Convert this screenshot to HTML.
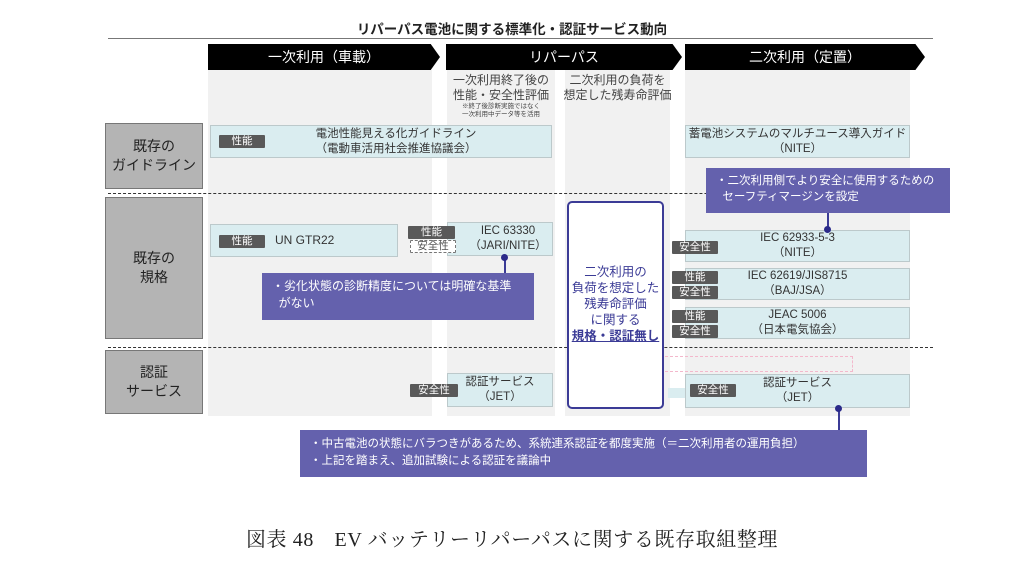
<!DOCTYPE html><html><head><meta charset="utf-8"><style>
body{margin:0;width:1024px;height:566px;background:#fff;position:relative;overflow:hidden;font-family:"Liberation Sans","Noto Sans CJK JP",sans-serif;color:#333}
div{position:absolute;box-sizing:border-box}
.col{background:#f1f1f1}
.hd{background:#000;color:#fff;font-size:14px;text-align:center;line-height:26px;height:26px}
.rl{background:#b4b4b4;border:1px solid #777;font-size:14px;text-align:center;display:flex;align-items:center;justify-content:center;line-height:19px;color:#222}
.bx{background:#daedf0;border:1px solid #bcc9cb;font-size:11.5px;text-align:center;line-height:15px;display:flex;flex-direction:column;justify-content:center}
.tg{background:#595959;color:#fff;font-size:10.5px;text-align:center;line-height:12px;height:13px;border-radius:1px}
.cl{background:#6461ad;color:#fff;font-size:12px;line-height:17px;padding:5px 10px}
.dl{height:0;border-top:1px dashed #333;left:108px;width:825px}
.ln{background:#3b3b96;width:1.5px}
.dot{width:7px;height:7px;border-radius:50%;background:#2a2a8a}
</style></head><body>
<div style="left:0;width:1024px;top:18px;text-align:center;font-size:13.5px;font-weight:bold;color:#222">リパーパス電池に関する標準化・認証サービス動向</div>
<div style="left:108px;top:38px;width:825px;height:1px;background:#777"></div>

<div class="col" style="left:208px;top:70px;width:224px;height:346px"></div>
<div class="col" style="left:447px;top:70px;width:108px;height:346px"></div>
<div class="col" style="left:565px;top:70px;width:105px;height:346px"></div>
<div class="col" style="left:685px;top:70px;width:225px;height:346px"></div>

<div class="hd" style="left:208px;top:44px;width:232px;clip-path:polygon(0 0,96% 0,100% 50%,96% 100%,0 100%)">一次利用（車載）</div>
<div class="hd" style="left:446px;top:44px;width:236px;clip-path:polygon(0 0,96% 0,100% 50%,96% 100%,0 100%)">リパーパス</div>
<div class="hd" style="left:685px;top:44px;width:240px;clip-path:polygon(0 0,96% 0,100% 50%,96% 100%,0 100%)">二次利用（定置）</div>

<div style="left:447px;top:73px;width:108px;text-align:center;font-size:12px;line-height:15px;color:#444">一次利用終了後の<br>性能・安全性評価<div style="position:static;font-size:6.5px;line-height:8px">※終了後診断実施ではなく<br>一次利用中データ等を活用</div></div>
<div style="left:560px;top:73px;width:115px;text-align:center;font-size:12px;line-height:15px;color:#444">二次利用の負荷を<br>想定した残寿命評価</div>

<div class="rl" style="left:105px;top:123px;width:98px;height:66px">既存の<br>ガイドライン</div>
<div class="rl" style="left:105px;top:197px;width:98px;height:142px">既存の<br>規格</div>
<div class="rl" style="left:105px;top:350px;width:98px;height:64px">認証<br>サービス</div>

<div class="dl" style="top:193px"></div>
<div class="dl" style="top:347px"></div>

<div class="bx" style="left:210px;top:125px;width:342px;height:33px;padding-left:30px">電池性能見える化ガイドライン<br>（電動車活用社会推進協議会）</div>
<div class="tg" style="left:219px;top:135px;width:46px">性能</div>
<div class="bx" style="left:685px;top:125px;width:225px;height:33px">蓄電池システムのマルチユース導入ガイド<br>（NITE）</div>

<div class="bx" style="left:210px;top:224px;width:188px;height:33px;text-align:left;padding-left:64px;font-size:12px">UN GTR22</div>
<div class="tg" style="left:219px;top:235px;width:46px">性能</div>

<div class="bx" style="left:447px;top:222px;width:106px;height:34px;padding-left:16px">IEC 63330<br>（JARI/NITE）</div>
<div class="tg" style="left:408px;top:226px;width:47px">性能</div>
<div class="tg" style="left:410px;top:240px;width:46px;background:#fff;color:#555;border:1px dashed #777;line-height:11px">安全性</div>

<div class="bx" style="left:685px;top:230px;width:225px;height:32px">IEC 62933-5-3<br>（NITE）</div>
<div class="tg" style="left:672px;top:241px;width:46px">安全性</div>
<div class="bx" style="left:685px;top:268px;width:225px;height:32px">IEC 62619/JIS8715<br>（BAJ/JSA）</div>
<div class="tg" style="left:672px;top:271px;width:46px">性能</div>
<div class="tg" style="left:672px;top:286px;width:46px">安全性</div>
<div class="bx" style="left:685px;top:307px;width:225px;height:32px">JEAC 5006<br>（日本電気協会）</div>
<div class="tg" style="left:672px;top:310px;width:46px">性能</div>
<div class="tg" style="left:672px;top:325px;width:46px">安全性</div>

<div style="left:660px;top:356px;width:193px;height:16px;border:1px dashed #f3b8cc;border-left:none"></div>
<div style="left:668px;top:388px;width:20px;height:10px;background:#daedf0"></div>

<div class="bx" style="left:447px;top:373px;width:106px;height:34px">認証サービス<br>（JET）</div>
<div class="tg" style="left:410px;top:384px;width:48px">安全性</div>
<div class="bx" style="left:685px;top:374px;width:225px;height:34px">認証サービス<br>（JET）</div>
<div class="tg" style="left:690px;top:384px;width:46px">安全性</div>

<div style="left:567px;top:201px;width:97px;height:208px;border:2px solid #3b3b96;border-radius:5px;background:#fff;color:#3b3b96;font-size:12.5px;line-height:16px;text-align:center;padding-top:61px">二次利用の<br>負荷を想定した<br>残寿命評価<br>に関する<br><b style="text-decoration:underline">規格・認証無し</b></div>

<div class="ln" style="left:504px;top:257px;height:17px"></div>
<div class="dot" style="left:501px;top:254px"></div>
<div class="cl" style="left:262px;top:273px;width:272px;height:47px">・劣化状態の診断精度については明確な基準<br>&nbsp;&nbsp;がない</div>

<div class="ln" style="left:827px;top:212px;height:18px"></div>
<div class="dot" style="left:824px;top:226px"></div>
<div class="cl" style="left:706px;top:168px;width:244px;height:45px;font-size:11.5px;line-height:16px">・二次利用側でより安全に使用するための<br>&nbsp;&nbsp;セーフティマージンを設定</div>

<div class="ln" style="left:838px;top:408px;height:23px"></div>
<div class="dot" style="left:835px;top:405px"></div>
<div class="cl" style="left:300px;top:430px;width:567px;height:47px;font-size:11.5px;line-height:17px;padding-top:6px">・中古電池の状態にバラつきがあるため、系統連系認証を都度実施（＝二次利用者の運用負担）<br>・上記を踏まえ、追加試験による認証を議論中</div>

<div style="left:0;width:1024px;top:523px;text-align:center;font-family:'Liberation Serif','Noto Serif CJK SC',serif;font-size:20px;letter-spacing:0.6px;color:#222">図表 48　EV バッテリーリパーパスに関する既存取組整理</div>
</body></html>
